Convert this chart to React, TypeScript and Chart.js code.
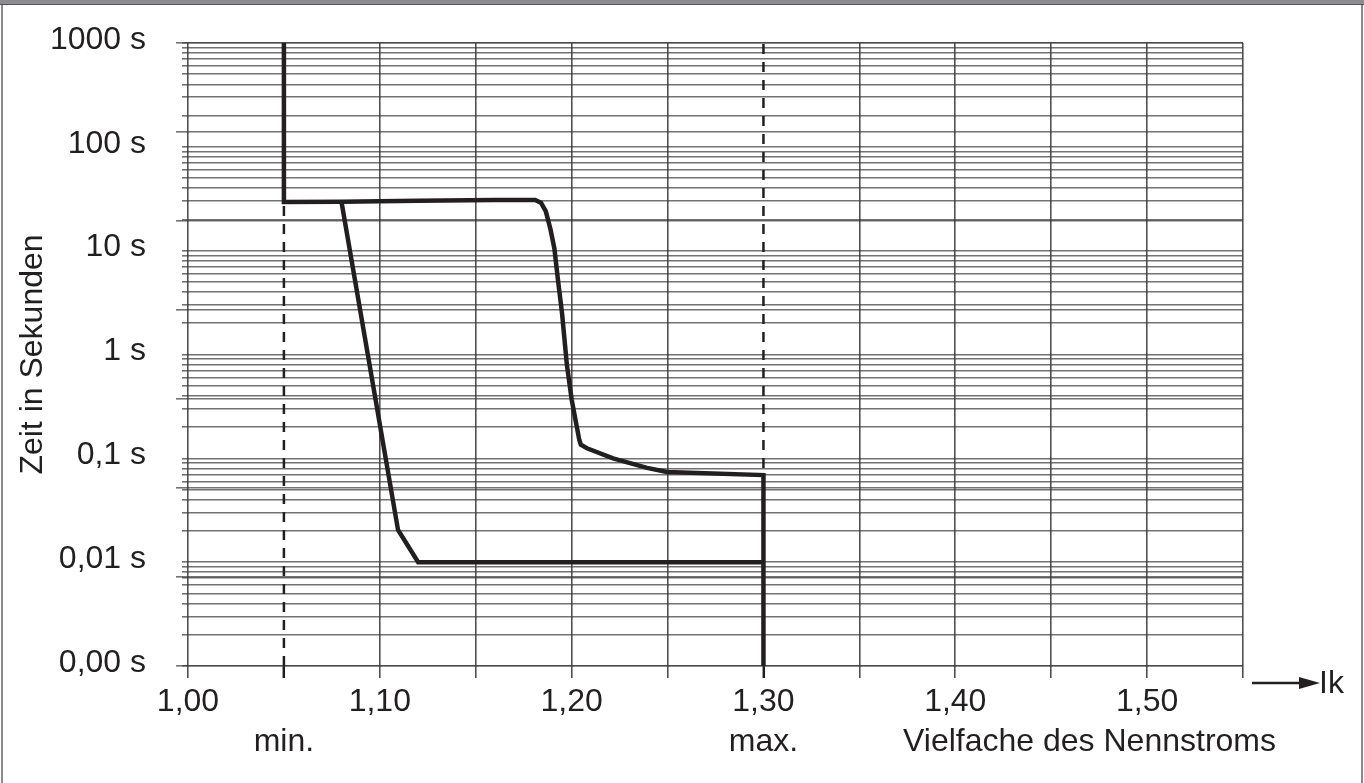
import React, { useEffect, useRef } from "react";
import { Chart, registerables } from "chart.js";

Chart.register(...registerables);

const FONT = '"Liberation Sans", Arial, Helvetica, sans-serif';
const INK = "#231f20";
const GRID_H = "rgba(60,60,60,0.72)";
const GRID_V = "rgba(50,50,50,0.85)";

// ---- X axis: multiples of rated current ----
const xMin = 1.0;
const xMax = 1.55;
const xGridValues = [1.0, 1.05, 1.1, 1.15, 1.2, 1.25, 1.3, 1.35, 1.4, 1.45, 1.5, 1.55];
const xLabelValues = [1.0, 1.1, 1.2, 1.3, 1.4, 1.5];
const xLabelTexts = ["1,00", "1,10", "1,20", "1,30", "1,40", "1,50"];
const xNoteValues = [1.05, 1.3, 1.47];
const xNoteTexts = ["min.", "max.", "Vielfache des Nennstroms"];
const xDashedValues = [1.05, 1.3];
const arrowLabel = "Ik";

// ---- Y axis: time in seconds (log) ----
const yMin = 0.001;
const yMax = 1000;
const yLabelValues = [1000, 100, 10, 1, 0.1, 0.01, 0.001];
const yLabelTexts = ["1000 s", "100 s", "10 s", "1 s", "0,1 s", "0,01 s", "0,00 s"];
const yMantissas = [1, 2, 3, 4, 5, 6, 7, 8, 9];
const yDecades = [-3, -2, -1, 0, 1, 2];
const yLongTickSteps = [0, 1, 2, 3, 4, 5, 6, 7];
const yTitle = "Zeit in Sekunden";

// ---- Curves ----
const upperX = [1.05, 1.05, 1.08, 1.12, 1.16, 1.181, 1.184, 1.1865, 1.189, 1.191, 1.193, 1.195, 1.1975, 1.2, 1.204, 1.2048, 1.208, 1.2216, 1.2393, 1.2497, 1.3, 1.3];
const upperY = [1000, 29.4, 29.6, 30.2, 30.7, 30.8, 29, 24, 16, 10.5, 5, 2.5, 0.8, 0.37, 0.15, 0.135, 0.125, 0.1, 0.081, 0.074, 0.069, 0.001];
const lowerX = [1.08, 1.1095, 1.12, 1.3];
const lowerY = [29.6, 0.0204, 0.01, 0.01];

const near = (a: number, b: number) => Math.abs(a - b) < 1e-6;
const nearLog = (a: number, b: number) => Math.abs(Math.log10(a) - Math.log10(b)) < 1e-6;

export default function App() {
  const ref = useRef<HTMLCanvasElement>(null);

  useEffect(() => {
    const canvas = ref.current;
    if (!canvas) return;

    const yGridValues: number[] = [];
    for (const d of yDecades) {
      for (const m of yMantissas) {
        yGridValues.push(parseFloat((m * Math.pow(10, d)).toPrecision(10)));
      }
    }
    yGridValues.push(yMax);

    const xTickValues = [...xGridValues, ...xNoteValues.filter((v) => !xGridValues.some((g) => near(g, v)))].sort((a, b) => a - b);

    const toPts = (xs: number[], ys: number[]) => xs.map((x, i) => ({ x, y: ys[i] }));

    const curveStyle: any = {
      borderColor: INK,
      backgroundColor: INK,
      borderWidth: 4.5,
      pointRadius: 0,
      fill: false,
      tension: 0,
      borderJoinStyle: "miter",
      borderCapStyle: "butt",
    };
    const dashStyle: any = {
      borderColor: INK,
      borderWidth: 2.5,
      borderDash: [10, 8],
      pointRadius: 0,
      fill: false,
      tension: 0,
    };

    const arrowPlugin = {
      id: "ikArrow",
      afterDraw(chart: any) {
        const { ctx, chartArea } = chart;
        const y = chartArea.bottom + 17;
        const x0 = chartArea.right + 9;
        ctx.save();
        ctx.strokeStyle = INK;
        ctx.fillStyle = INK;
        ctx.lineWidth = 2.5;
        ctx.beginPath();
        ctx.moveTo(x0, y);
        ctx.lineTo(x0 + 52, y);
        ctx.stroke();
        ctx.beginPath();
        ctx.moveTo(x0 + 47, y - 6);
        ctx.lineTo(x0 + 68, y);
        ctx.lineTo(x0 + 47, y + 6);
        ctx.closePath();
        ctx.fill();
        ctx.font = `32px ${FONT}`;
        ctx.textBaseline = "middle";
        ctx.textAlign = "left";
        ctx.fillText(arrowLabel, x0 + 67, y + 1);
        ctx.restore();
      },
    };

    const tickFont = { size: 32, family: FONT, lineHeight: 1.25 };

    const chart = new Chart(canvas, {
      type: "line",
      data: {
        datasets: [
          { ...curveStyle, label: "upper", data: toPts(upperX, upperY) },
          { ...curveStyle, label: "lower", data: toPts(lowerX, lowerY) },
          ...xDashedValues.map((v) => ({
            ...dashStyle,
            label: "dash" + v,
            data: [
              { x: v, y: yMin },
              { x: v, y: yMax },
            ],
          })),
        ],
      },
      options: {
        animation: false,
        responsive: false,
        maintainAspectRatio: false,
        layout: { padding: { left: 0, top: 43, right: 121, bottom: 0 } },
        plugins: { legend: { display: false }, tooltip: { enabled: false } },
        scales: {
          x: {
            type: "linear",
            position: "bottom",
            min: xMin,
            max: xMax,
            afterBuildTicks: (s: any) => {
              s.ticks = xTickValues.map((v) => ({ value: v }));
            },
            afterFit: (s: any) => {
              s.height = 117;
              s.paddingLeft = 0;
              s.paddingRight = 0;
            },
            border: { display: false },
            grid: {
              lineWidth: 1.6,
              tickLength: 12,
              color: (c: any) => {
                const v = c.tick ? c.tick.value : NaN;
                if (xDashedValues.some((d) => near(d, v))) return "rgba(0,0,0,0)";
                if (!xGridValues.some((g) => near(g, v))) return "rgba(0,0,0,0)";
                return GRID_V;
              },
              tickColor: (c: any) => {
                const v = c.tick ? c.tick.value : NaN;
                if (xDashedValues.some((d) => near(d, v))) return INK;
                if (!xGridValues.some((g) => near(g, v))) return "rgba(0,0,0,0)";
                return GRID_V;
              },
              tickWidth: (c: any) => {
                const v = c.tick ? c.tick.value : NaN;
                return xDashedValues.some((d) => near(d, v)) ? 2.5 : 1.6;
              },
            },
            ticks: {
              autoSkip: false,
              maxRotation: 0,
              minRotation: 0,
              padding: 4,
              color: INK,
              font: tickFont,
              callback: (value: any) => {
                const v = Number(value);
                const li = xLabelValues.findIndex((t) => near(t, v));
                const first = li >= 0 ? xLabelTexts[li] : "";
                const ni = xNoteValues.findIndex((t) => near(t, v));
                if (ni >= 0) return [first, xNoteTexts[ni]];
                return first;
              },
            },
          },
          y: {
            type: "logarithmic",
            position: "left",
            weight: 10,
            min: yMin,
            max: yMax,
            afterBuildTicks: (s: any) => {
              s.ticks = yGridValues.map((v) => ({ value: v }));
            },
            afterFit: (s: any) => {
              s.width = 188;
              s.paddingTop = 0;
              s.paddingBottom = 0;
            },
            border: { display: false },
            grid: { color: GRID_H, lineWidth: 1.6, tickLength: 6 },
            title: {
              display: true,
              text: yTitle,
              color: INK,
              font: { size: 32, family: FONT, lineHeight: 1.2 },
              padding: { top: 14, bottom: 0 },
            },
            ticks: {
              autoSkip: false,
              padding: 36,
              labelOffset: -3,
              color: INK,
              font: tickFont,
              callback: (value: any) => {
                const v = Number(value);
                const i = yLabelValues.findIndex((t) => nearLog(t, v));
                return i >= 0 ? yLabelTexts[i] : "";
              },
            },
          },
          y2: {
            type: "linear",
            position: "left",
            weight: 0,
            min: 0,
            max: 7,
            afterBuildTicks: (s: any) => {
              s.ticks = yLongTickSteps.map((v) => ({ value: v }));
            },
            afterFit: (s: any) => {
              s.width = 0;
              s.paddingTop = 0;
              s.paddingBottom = 0;
            },
            border: { display: false },
            grid: { color: GRID_H, lineWidth: 1.6, tickLength: 12 },
            ticks: { display: false },
          },
        },
      } as any,
      plugins: [arrowPlugin],
    });

    return () => chart.destroy();
  }, []);

  return (
    <div
      style={{
        position: "fixed",
        left: 0,
        top: 0,
        width: 1364,
        height: 783,
        background: "#ffffff",
        overflow: "hidden",
      }}
    >
      <canvas ref={ref} width={1364} height={783} style={{ position: "absolute", left: 0, top: 0 }} />
      <div style={{ position: "absolute", left: 0, top: 0, width: 1364, height: 4, background: "#8d8c91", borderBottom: "1px solid #555" }} />
      <div style={{ position: "absolute", left: 1, top: 5, width: 2, height: 778, background: "#8a8a8a" }} />
      <div style={{ position: "absolute", left: 1361, top: 5, width: 2, height: 778, background: "#8a8a8a" }} />
    </div>
  );
}
